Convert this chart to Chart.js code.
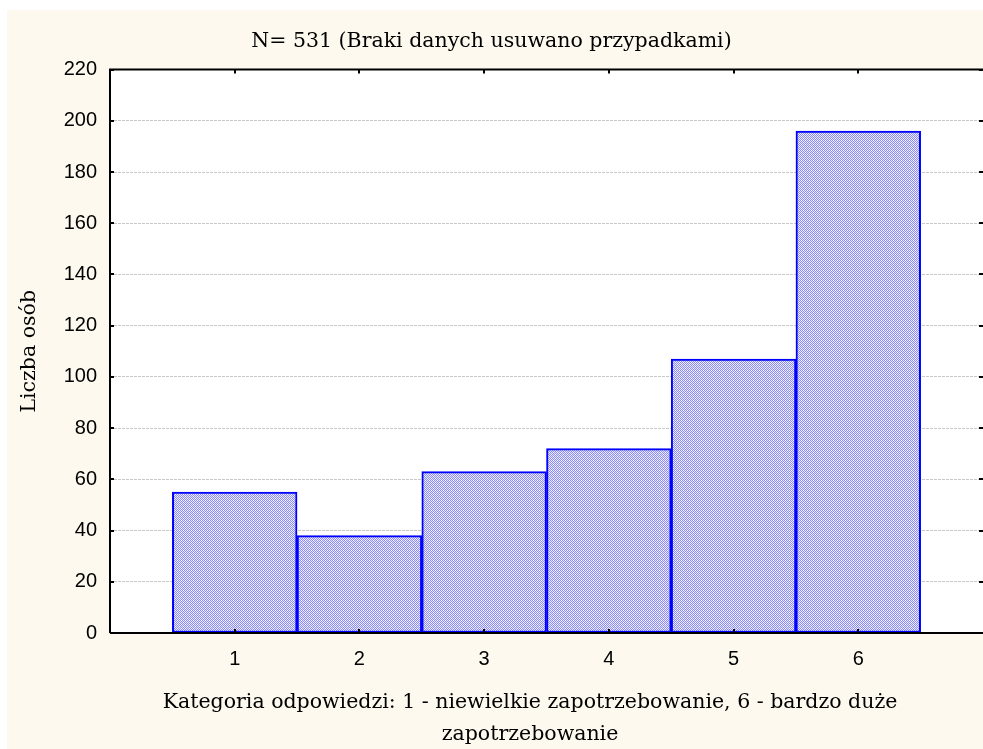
<!DOCTYPE html>
<html>
<head>
<meta charset="utf-8">
<script src="https://cdn.jsdelivr.net/npm/chart.js@4/dist/chart.umd.min.js"></script>
<style>
    html, body { margin: 0; padding: 0; background: #ffffff; }
    #wrap { width: 983px; height: 749px; }
</style>
</head>
<body>
<div id="wrap"><canvas id="histChart" width="983" height="749"></canvas></div>
<script>

// dane
const categories = [1, 2, 3, 4, 5, 6]
const counts = [55, 38, 63, 72, 107, 196]
const yTicks = [0, 20, 40, 60, 80, 100, 120, 140, 160, 180, 200, 220]

const titleText = "N= 531 (Braki danych usuwano przypadkami)"
const xTitle = ["Kategoria odpowiedzi: 1 - niewielkie zapotrzebowanie, 6 - bardzo duże", "zapotrzebowanie"]
const yTitle = "Liczba osób"

const serif = "'DejaVu Serif', serif"
const sans = "'Liberation Sans', Arial, sans-serif"

function makePattern() {
    const c = document.createElement("canvas")
    c.width = 4
    c.height = 4
    const g = c.getContext("2d")
    g.fillStyle = "#e6e6ff"
    g.fillRect(0, 0, 4, 4)
    g.fillStyle = "#8c8cf6"
    for (let y = 0; y < 4; y++) {
        for (let x = 0; x < 4; x++) {
            if ((x + y) % 2 === 0) g.fillRect(x, y, 1, 1)
        }
    }
    g.fillStyle = "#ffffff"
    g.fillRect(1, 0, 1, 1)
    g.fillRect(3, 2, 1, 1)
    return g.createPattern(c, "repeat")
}

const frame = {
    id: "frame",
    beforeDraw(chart) {
        const ctx = chart.ctx
        const a = chart.chartArea
        ctx.save()
        ctx.fillStyle = "#ffffff"
        ctx.fillRect(0, 0, chart.width, chart.height)
        ctx.fillStyle = "#fdf9ee"
        ctx.fillRect(7, 10, chart.width - 7, chart.height - 10)
        ctx.fillStyle = "#ffffff"
        ctx.fillRect(a.left, a.top, a.right - a.left, a.bottom - a.top)
        ctx.restore()
    },
    afterDatasetsDraw(chart) {
        const ctx = chart.ctx
        const a = chart.chartArea
        const xs = chart.scales.x
        const ys = chart.scales.y
        ctx.save()
        ctx.strokeStyle = "#000000"
        ctx.lineWidth = 2
        ctx.beginPath()
        ctx.moveTo(a.left, a.bottom)
        ctx.lineTo(a.left, a.top)
        ctx.lineTo(a.right, a.top)
        ctx.moveTo(a.left, a.bottom)
        ctx.lineTo(a.right, a.bottom)
        // znaczniki do wewnatrz
        yTicks.forEach(v => {
            const py = Math.round(ys.getPixelForValue(v))
            ctx.moveTo(a.left, py)
            ctx.lineTo(a.left + 4, py)
            ctx.moveTo(a.right, py)
            ctx.lineTo(a.right - 4, py)
        })
        categories.forEach(v => {
            const px = Math.round(xs.getPixelForValue(v))
            ctx.moveTo(px, a.bottom)
            ctx.lineTo(px, a.bottom - 4)
            ctx.moveTo(px, a.top)
            ctx.lineTo(px, a.top + 4)
        })
        ctx.stroke()

        // opis osi X (wysrodkowany jak w oryginale)
        ctx.fillStyle = "#000000"
        ctx.font = "20.5px " + serif
        ctx.textAlign = "center"
        ctx.textBaseline = "alphabetic"
        xTitle.forEach((line, i) => {
            ctx.fillText(line, 530, 708 + i * 32)
        })
        ctx.restore()
    }
}

const chart = new Chart(document.getElementById("histChart"), {
    type: "bar",
    data: {
        datasets: [
            {
                data: categories.map((c, i) => ({ x: c, y: counts[i] })),
                backgroundColor: makePattern(),
                borderColor: "#0000ff",
                borderWidth: 2,
                borderSkipped: false,
                barPercentage: 1,
                categoryPercentage: 1
            }
        ]
    },
    options: {
        responsive: false,
        animation: false,
        layout: { padding: 0 },
        plugins: {
            legend: { display: false },
            tooltip: { enabled: false },
            title: {
                display: true,
                text: titleText,
                color: "#000000",
                font: { family: serif, size: 20.5, weight: "normal", lineHeight: 1.2 },
                padding: { top: 29, bottom: 16 }
            }
        },
        scales: {
            x: {
                type: "linear",
                min: 0,
                max: 7,
                offset: false,
                afterFit(scale) { scale.height = 116 },
                afterBuildTicks(scale) { scale.ticks = categories.map(v => ({ value: v })) },
                grid: { display: false, drawTicks: false },
                border: { display: false },
                ticks: {
                    color: "#000000",
                    padding: 14,
                    font: { family: sans, size: 20 },
                    callback: v => String(v)
                },
                title: { display: false }
            },
            y: {
                min: 0,
                max: 220,
                afterFit(scale) { scale.width = 110 },
                afterBuildTicks(scale) { scale.ticks = yTicks.map(v => ({ value: v })) },
                grid: {
                    color: "#c8c8c8",
                    lineWidth: 1,
                    drawTicks: false
                },
                border: { display: false, dash: [3, 1] },
                ticks: {
                    color: "#000000",
                    padding: 13,
                    font: { family: sans, size: 20 }
                },
                title: {
                    display: true,
                    text: yTitle,
                    color: "#000000",
                    font: { family: serif, size: 20.5, lineHeight: 1.2 },
                    padding: { top: 17, bottom: 0 }
                }
            }
        }
    },
    plugins: [frame]
})

</script>
</body>
</html>
